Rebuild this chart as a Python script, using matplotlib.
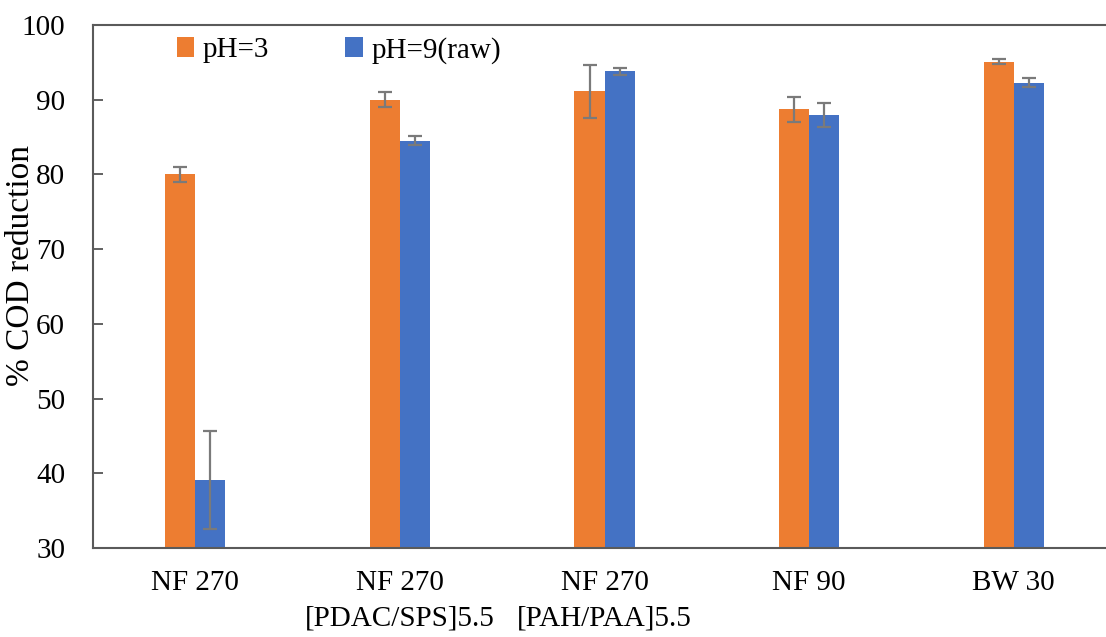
import matplotlib
matplotlib.use("Agg")
import matplotlib.pyplot as plt
import numpy as np

plt.rcParams['font.family'] = ['Liberation Serif', 'DejaVu Serif']

# membranes and COD reduction (%)
membranes = ['NF 270', 'NF 270\n[PDAC/SPS]5.5', 'NF 270\n[PAH/PAA]5.5', 'NF 90', 'BW 30']
ph3 = [80.0, 90.0, 91.1, 88.7, 95.1]
ph3_err = [1.0, 1.0, 3.5, 1.7, 0.3]
ph9 = [39.1, 84.5, 93.8, 87.9, 92.3]
ph9_err = [6.5, 0.6, 0.5, 1.6, 0.65]

orange = '#ED7D31'
blue = '#4472C4'
errc = '#7a7a7a'

fig = plt.figure(figsize=(11.06, 6.37), dpi=100)
ax = fig.add_axes([0.0841, 0.1397, 0.925, 0.8211])

x = np.arange(len(membranes))
w = 0.147
ekw = dict(ecolor=errc, elinewidth=1.6, capsize=5, capthick=1.6)
ax.bar(x - w / 2, ph3, w, color=orange, label='pH=3',
       yerr=ph3_err, error_kw=ekw)
ax.bar(x + w / 2, ph9, w, color=blue, label='pH=9(raw)',
       yerr=ph9_err, error_kw=ekw)

ax.set_xlim(-0.5, 4.5)
ax.set_ylim(30, 100)
ax.set_yticks(np.arange(30, 101, 10))
ax.set_xticks(x)
ax.set_xticklabels(membranes, fontsize=21, linespacing=1.45)
ax.tick_params(axis='x', length=0, pad=16)
ax.tick_params(axis='y', direction='in', length=7, width=1.3, color='#555555',
               labelsize=21, pad=20)

for s in ['left', 'top', 'bottom', 'right']:
    ax.spines[s].set_color('#5a5a5a')
    ax.spines[s].set_linewidth(1.5)

ax.set_ylabel('% COD reduction', fontsize=24)
ax.yaxis.set_label_coords(-0.056, 0.541)

ax.legend(loc='center left', bbox_to_anchor=(0.136, 0.921),
          bbox_transform=fig.transFigure, ncol=2, frameon=False,
          fontsize=21, handlelength=0.6, handleheight=0.7,
          handletextpad=0.3, columnspacing=2.6)

fig.savefig('out.png', dpi=100)
